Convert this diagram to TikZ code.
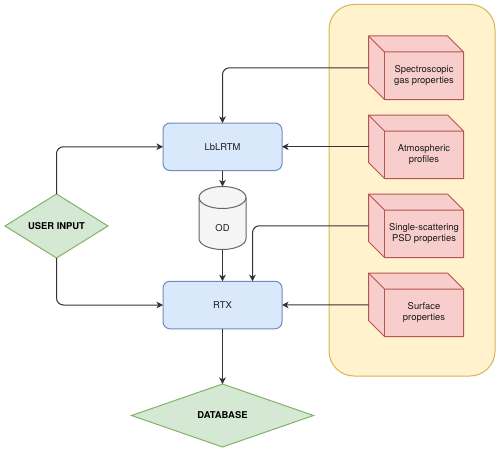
\documentclass[tikz,border=0pt]{standalone}
\usepackage{fontspec}
\setmainfont{TeX Gyre Heros}
\usetikzlibrary{shapes.geometric,arrows.meta,calc}
\definecolor{ylwF}{HTML}{FFF2CC}\definecolor{ylwD}{HTML}{D6B656}
\definecolor{redF}{HTML}{F8CECC}\definecolor{redD}{HTML}{B85450}
\definecolor{bluF}{HTML}{DAE8FC}\definecolor{bluD}{HTML}{6C8EBF}
\definecolor{grnF}{HTML}{D5E8D4}\definecolor{grnD}{HTML}{82B366}
\definecolor{cylF}{HTML}{F5F5F5}\definecolor{cylD}{HTML}{666666}
\definecolor{txt}{HTML}{1A1A1A}\definecolor{ln}{HTML}{333333}
\tikzset{
  lbl/.style={font=\fontsize{9.4}{11}\selectfont,text=txt,align=center,inner sep=0pt},
  procbox/.style={lbl,draw=bluD,fill=bluF,line width=1pt,rounded corners=7pt,minimum width=119pt,minimum height=47.5pt,outer sep=0pt},
  choice/.style={diamond,aspect=1,draw=grnD,fill=grnF,line width=1pt,inner sep=0pt,outer sep=0pt,text=black,font=\fontsize{9.4}{11}\selectfont\bfseries},
  cubebox/.style={minimum width=95pt,minimum height=63.5pt,inner sep=0pt,outer sep=0pt},
  cubeface/.style={draw=redD,fill=redF,line width=1pt,line join=round},
  conn/.style={draw=ln,line width=1pt,rounded corners=7pt,-{Stealth[length=6.5pt,width=6.5pt,inset=1.8pt]}},
}
\newcommand{\cubeshape}[3]{%
  \node[cubebox] (#1) at (416,#2+31.75) {};
  \draw[cubeface] (368.5,#2) -- (447.5,#2) -- (463.5,#2+16) -- (463.5,#2+63.5) -- (384.5,#2+63.5) -- (368.5,#2+47.5) -- cycle;
  \draw[cubeface,fill=none] (368.5,#2) -- (384.5,#2+16) -- (463.5,#2+16);
  \draw[cubeface,fill=none] (384.5,#2+16) -- (384.5,#2+63.5);
  \node[lbl] (#1t) at (424,#2+39.75) {#3};
}
\begin{document}
\begin{tikzpicture}[x=1pt,y=-1pt]
\useasboundingbox (0,0) rectangle (500,452);
\draw[draw=ylwD,fill=ylwF,line width=1pt,rounded corners=25pt] (329,4.5) rectangle (495,376);
\cubeshape{c1}{36}{Spectroscopic\\gas properties}
\cubeshape{c2}{115}{Atmospheric\\profiles}
\cubeshape{c3}{194}{Single-scattering\\PSD properties}
\cubeshape{c4}{273}{Surface\\properties}
\node[procbox] (lb) at (222.5,146.75) {LbLRTM};
\node[procbox] (rtx) at (222.5,305) {RTX};
\node[choice,minimum width=103pt,minimum height=63pt] (user) at (56.5,226) {USER INPUT};
\node[choice,minimum width=182pt,minimum height=63pt] (db) at (222.5,415.5) {DATABASE};
\draw[draw=cylD,fill=cylF,line width=1pt] (199,197.5) .. controls (199,191.4) and (209.5,186.5) .. (222.5,186.5) .. controls (235.5,186.5) and (246,191.4) .. (246,197.5) -- (246,238.5) .. controls (246,244.6) and (235.5,249.5) .. (222.5,249.5) .. controls (209.5,249.5) and (199,244.6) .. (199,238.5) -- cycle;
\draw[draw=cylD,line width=1pt] (199,197.5) .. controls (199,203.6) and (209.5,208.5) .. (222.5,208.5) .. controls (235.5,208.5) and (246,203.6) .. (246,197.5);
\node[minimum width=47pt,minimum height=63pt,inner sep=0pt,outer sep=0pt] (od) at (222.5,218) {};
\node[lbl] (odt) at (222.5,228) {OD};
\draw[conn] (c1.west) -| (lb.north);
\draw[conn] (c2.west) -- (lb.east);
\draw[conn] (c3.west) -| ([xshift=30pt]rtx.north);
\draw[conn] (c4.west) -- (rtx.east);
\draw[conn] (user.north) |- (lb.west);
\draw[conn] (user.south) |- (rtx.west);
\draw[conn] (lb.south) -- (od.north);
\draw[conn] (od.south) -- (rtx.north);
\draw[conn] (rtx.south) -- (db.north);
\end{tikzpicture}
\end{document}
